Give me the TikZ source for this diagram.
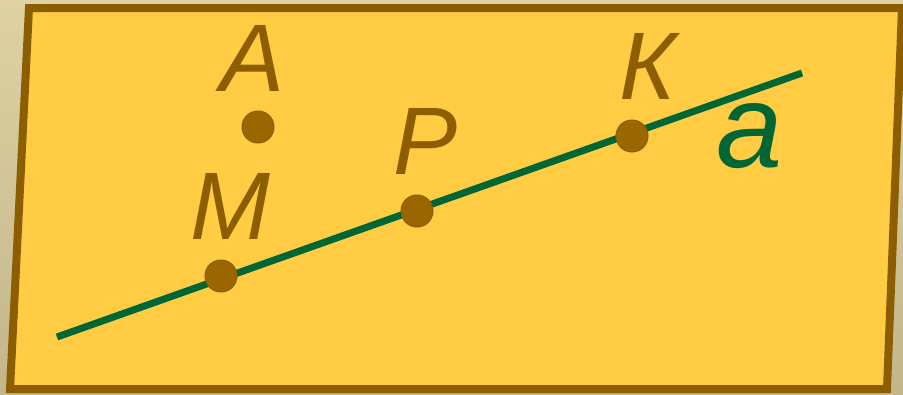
\documentclass[tikz,border=0pt]{standalone}
\usepackage{fontspec}
\setmainfont{Liberation Sans}
\usetikzlibrary{positioning}
\definecolor{plane}{RGB}{255,204,68}
\definecolor{rim}{RGB}{140,94,0}
\definecolor{dotfill}{RGB}{153,102,0}
\definecolor{linegreen}{RGB}{0,102,51}
\definecolor{bgtop}{RGB}{222,209,162}
\definecolor{bgbot}{RGB}{196,182,140}
\begin{document}
\begin{tikzpicture}[x=1pt,y=-1pt]
\tikzstyle{pt}=[circle,draw=rim,line width=1pt,fill=dotfill,minimum size=32pt,inner sep=0pt]
\tikzstyle{lbl}=[anchor=base,inner sep=0pt,text=rim,font=\fontsize{96}{96}\selectfont\itshape]
\useasboundingbox (0,0) rectangle (903,394);
\shade[top color=bgtop,bottom color=bgbot] (0,0) rectangle (903,394);
% plane
\draw[rim,line width=8pt,fill=plane,line join=miter] (29,8) -- (902,8) -- (887,389) -- (10,389) -- cycle;
% line a
\coordinate (la) at (57,337);
\coordinate (lb) at (802,73);
\draw[linegreen,line width=7pt] (la) -- (lb);
\node[anchor=base,inner sep=0pt,text=linegreen,font=\fontsize{119}{119}\selectfont\itshape] (na) at (750,167) {a};
% points
\node[pt] (ptA) at (258,127) {};
\node[pt] (ptM) at (221,276) {};
\node[pt] (ptP) at (417,211) {};
\node[pt] (ptK) at (632,136) {};
\node[lbl] (nA) at (253,91) {A};
\node[lbl] (nM) at (230,239) {M};
\node[lbl] (nP) at (426,174) {P};
\node[lbl] (nK) at (648,99) {К};
\end{tikzpicture}
\end{document}
